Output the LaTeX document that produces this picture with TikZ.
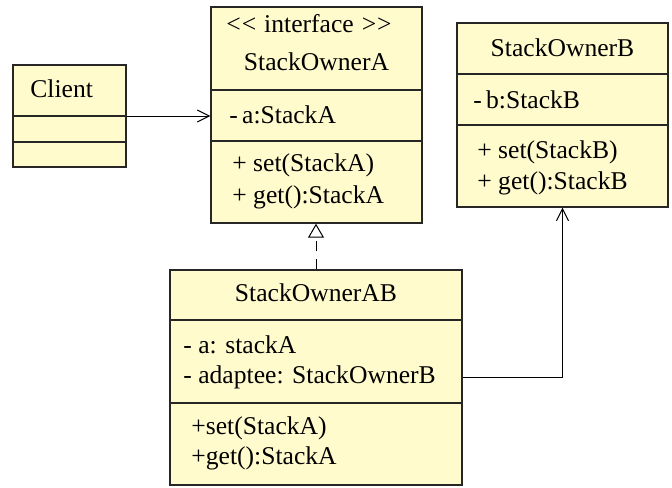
\documentclass[tikz,border=0pt]{standalone}
\usepackage{fontspec}
\setmainfont{Liberation Serif}
\usetikzlibrary{arrows.meta}
\definecolor{classfill}{HTML}{FFFBCC}
\tikzset{
  classbox/.style={draw=black!85, fill=classfill, rectangle, line width=0.7pt, inner sep=0pt},
  member/.style={anchor=west, inner sep=0pt},
  title/.style={inner sep=0pt},
  usearrow/.style={line width=0.5pt, -{Straight Barb[length=6pt,width=6pt]}},
  realizes/.style={line width=0.5pt, dash pattern=on 5pt off 4pt, -{Triangle[open,length=7pt,width=8pt,fill=white]}},
}
\begin{document}
\begin{tikzpicture}[x=0.5pt, y=-0.5pt, font=\fontsize{12.8}{16}\selectfont]
  \useasboundingbox (0,0) rectangle (672,487);
  % class boxes
  \node (client) [classbox, minimum width=56.5pt, minimum height=51pt] at (69.5,116) {};
  \node (ownA) [classbox, minimum width=105.5pt, minimum height=108pt] at (316.5,115) {};
  \node (ownB) [classbox, minimum width=105.5pt, minimum height=92pt] at (562.5,115) {};
  \node (ownAB) [classbox, minimum width=146pt, minimum height=107.5pt] at (316,377.5) {};

  % compartment lines
  \foreach \n/\y in {client/116, client/142, ownA/90, ownA/141, ownB/74, ownB/125, ownAB/320, ownAB/403}
    \draw[black!85, line width=0.7pt] (\n.west |- 0,\y) -- (\n.east |- 0,\y);

  % Client
  \node (clientname) [member] at (30,89) {Client};

  % StackOwnerA
  \node (ownAstereo) [title] at (309,24) {<\kern0.5pt<\hspace{4pt}interface\hspace{4pt}>\kern0.5pt>};
  \node (ownAname) [title] at (316.5,62) {StackOwnerA};
  \node (ownAattr) [member] at (229,115) {-\,a:StackA};
  \node (ownAset) [member] at (232,165) {+ set(StackA)};
  \node (ownAget) [member] at (232,197) {+ get():StackA};

  % StackOwnerB
  \node (ownBname) [title] at (562.5,48) {StackOwnerB};
  \node (ownBattr) [member] at (473,100) {-\,b:StackB};
  \node (ownBset) [member] at (477,152) {+ set(StackB)};
  \node (ownBget) [member] at (477,183) {+ get():StackB};

  % StackOwnerAB
  \node (ownABname) [title] at (316,293) {StackOwnerAB};
  \node (ownABa) [member] at (183,345) {- a: stackA};
  \node (ownABadaptee) [member] at (183,377) {- adaptee: StackOwnerB};
  \node (ownABset) [member] at (191,428) {+set(StackA)};
  \node (ownABget) [member] at (191,458) {+get():StackA};

  % relations
  \draw[usearrow] (client.east) -- (client.east -| ownA.west);
  \draw[realizes] (ownAB.north) -- (ownAB.north |- ownA.south);
  \draw[usearrow] (ownAB.east) -| (ownB.south);
\end{tikzpicture}
\end{document}
